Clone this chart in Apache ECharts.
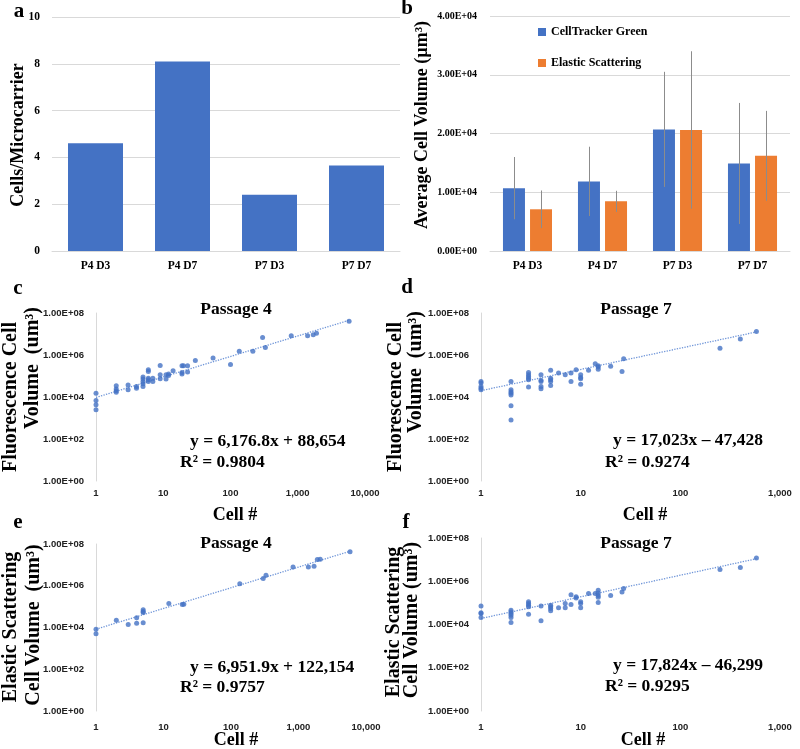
<!DOCTYPE html>
<html>
<head>
<meta charset="utf-8">
<script src="https://cdn.jsdelivr.net/npm/echarts@6/dist/echarts.min.js"></script>
<style>
  html, body { margin: 0; padding: 0; background: #fff; }
  #chart { width: 800px; height: 749px; }
</style>
</head>
<body>
<div id="chart"></div>
<script>
// ---- data ----
var groups = ['P4 D3', 'P4 D7', 'P7 D3', 'P7 D7'];
var cellsPerCarrier = [4.6, 8.1, 2.4, 3.65];

var volGreen = [10700, 11850, 20700, 14900];
var volGreenSd = [5300, 5900, 9800, 10300];
var volElastic = [7100, 8450, 20600, 16200];
var volElasticSd = [3200, 1800, 13400, 7650];

// [cell #, volume]
var p4Fluo = [
    [1, 1.5e4], [1, 6.8e3], [1, 4.3e3], [1, 2.5e3],
    [2, 3.4e4], [2, 2.4e4], [2, 2.0e4], [2, 1.7e4],
    [3, 3.7e4], [3, 2.2e4], [4, 3.2e4], [4, 2.6e4],
    [5, 8.9e4], [5, 7.1e4], [5, 5.5e4], [5, 4.3e4], [5, 3.2e4],
    [6, 2.0e5], [6, 1.66e5], [6, 7.9e4], [6, 6.6e4], [6, 5.5e4],
    [7, 7.9e4], [7, 5.5e4], [9, 3.2e5], [9, 1.15e5], [9, 7.4e4],
    [11, 1.15e5], [11, 7.1e4], [12, 1.26e5], [12, 1.07e5], [14, 1.8e5],
    [19, 3.1e5], [19, 1.48e5], [19, 1.23e5], [20, 3.1e5], [23, 3.1e5], [23, 1.55e5],
    [30, 5.4e5], [55, 7.2e5], [100, 3.5e5], [135, 1.5e6], [215, 1.5e6],
    [300, 6.8e6], [330, 2.3e6], [800, 8.3e6], [1400, 8.3e6], [1700, 9.3e6],
    [1900, 1.1e7], [5800, 4.0e7]
];
var p4FluoTrend = [[1, 9.5e3], [5800, 4.5e7]];

var p7Fluo = [
    [1, 5.5e4], [1, 4.6e4], [1, 3.2e4], [1, 2.6e4], [1, 2.2e4],
    [2, 5.5e4], [2, 2.2e4], [2, 1.8e4], [2, 1.5e4], [2, 1.26e4], [2, 3.8e3], [2, 8.1e2],
    [3, 1.48e5], [3, 1.15e5], [3, 9.5e4], [3, 7.9e4], [3, 6.6e4], [3, 3.0e4],
    [4, 1.15e5], [4, 6.2e4], [4, 5.5e4], [4, 3.2e4], [4, 2.5e4],
    [5, 1.86e5], [5, 7.9e4], [5, 6.6e4], [5, 5.5e4], [5, 3.5e4],
    [6, 1.38e5], [7, 1.15e5], [8, 1.38e5], [8, 5.5e4], [9, 2.0e5],
    [10, 1.15e5], [10, 8.5e4], [10, 7.4e4], [10, 4.1e4], [12, 1.86e5], [14, 3.8e5],
    [15, 3.1e5], [15, 2.7e5], [15, 2.1e5], [20, 2.9e5], [26, 1.66e5], [27, 6.6e5],
    [250, 2.1e6], [400, 5.8e6], [580, 1.3e7]
];
var p7FluoTrend = [[1, 2.0e4], [580, 1.25e7]];

var p4Elastic = [
    [1, 8.3e3], [1, 5.0e3], [2, 2.2e4], [3, 1.4e4], [4, 2.9e4], [4, 1.6e4],
    [5, 7.1e4], [5, 5.9e4], [5, 5.2e4], [5, 1.7e4], [12, 1.4e5], [19, 1.26e5], [20, 1.3e5],
    [135, 1.26e6], [300, 2.2e6], [330, 3.2e6], [830, 7.9e6], [1400, 7.9e6], [1700, 8.5e6],
    [1900, 1.8e7], [2100, 1.85e7], [5800, 4.2e7]
];
var p4ElasticTrend = [[1, 8.3e3], [5800, 4.5e7]];

var p7Elastic = [
    [1, 7.1e4], [1, 3.5e4], [1, 3.2e4], [1, 2.1e4],
    [2, 4.6e4], [2, 3.8e4], [2, 3.2e4], [2, 2.7e4], [2, 2.1e4], [2, 1.23e4],
    [3, 1.12e5], [3, 9.3e4], [3, 7.8e4], [3, 6.6e4], [3, 3.0e4],
    [4, 7.1e4], [4, 1.5e4], [5, 7.8e4], [5, 6.6e4], [5, 5.5e4], [5, 4.3e4],
    [6, 6.0e4], [7, 9.3e4], [7, 5.9e4], [8, 2.4e5], [8, 8.3e4], [9, 1.9e5], [9, 1.66e5],
    [10, 1.12e5], [10, 9.3e4], [10, 6.0e4], [12, 2.7e5], [14, 2.7e5],
    [15, 3.8e5], [15, 2.9e5], [15, 2.2e5], [15, 1.8e5], [15, 1.05e5],
    [20, 2.2e5], [26, 3.2e5], [27, 4.6e5], [250, 3.5e6], [400, 4.3e6], [580, 1.2e7]
];
var p7ElasticTrend = [[1, 1.9e4], [580, 1.1e7]];

// ---- styling helpers ----
var SERIF = '"Liberation Serif", "Times New Roman", serif';
var SANS = '"Liberation Sans", Arial, sans-serif';
var BLUE = '#4472C4';
var ORANGE = '#ED7D31';
var GRIDLINE = '#d9d9d9';

function sciLabel(v) {
    if (v === 0) return '0.00E+00';
    var e = Math.floor(Math.log10(Math.abs(v)) + 1e-9);
    var m = v / Math.pow(10, e);
    return m.toFixed(2) + 'E' + (e < 0 ? '-' : '+') + (Math.abs(e) < 10 ? '0' : '') + Math.abs(e);
}

function logYLabel(v) {
    var e = Math.round(Math.log10(v));
    if (e % 2 !== 0) return '';
    return '1.00E+' + (e < 10 ? '0' : '') + e;
}

function logXLabel(v) {
    return Math.round(v).toLocaleString('en-US');
}

function logX(gi, max, margin) {
    return {
        gridIndex: gi, type: 'log', logBase: 10, min: 1, max: max,
        axisLine: { show: false }, axisTick: { show: false }, splitLine: { show: false },
        axisLabel: { formatter: logXLabel, margin: margin, color: '#222', fontFamily: SANS, fontWeight: 'bold', fontSize: 9.5 }
    };
}

function logY(gi) {
    return {
        gridIndex: gi, type: 'log', logBase: 10, min: 1, max: 1e8,
        axisLine: { show: true, lineStyle: { color: GRIDLINE, width: 1 } },
        axisTick: { show: false }, splitLine: { show: false },
        axisLabel: { formatter: logYLabel, margin: 12, color: '#222', fontFamily: SANS, fontWeight: 'bold', fontSize: 9.5 }
    };
}

function scatterPair(gi, pts, trend) {
    return [{
        type: 'line', xAxisIndex: gi, yAxisIndex: gi, data: trend, showSymbol: false, silent: true,
        lineStyle: { type: 'dotted', width: 1.3, color: '#6f95d8' }, z: 1
    }, {
        type: 'scatter', xAxisIndex: gi, yAxisIndex: gi, data: pts, symbolSize: 5,
        itemStyle: { color: BLUE }, z: 2
    }];
}

// error bars sit on the centre of each bar of the pair
function errRender(sign) {
    return function (params, api) {
        var w = 22;
        var off = sign * (w * 1.23) / 2;
        var lo = api.coord([api.value(0), api.value(1)]);
        var hi = api.coord([api.value(0), api.value(2)]);
        var x = Math.round(lo[0] + off) + 0.5;
        return {
            type: 'line',
            shape: { x1: x, y1: lo[1], x2: x, y2: hi[1] },
            style: { stroke: '#8c8c8c', lineWidth: 1 }
        };
    };
}

function errData(vals, sd) {
    return vals.map(function (v, i) { return [i, v - sd[i], v + sd[i]]; });
}

function txt(x, y, s, size, opts) {
    opts = opts || {};
    return {
        type: 'text', x: x, y: y, rotation: opts.rot || 0, silent: true,
        style: {
            text: s, fill: '#000', font: 'bold ' + size + 'px ' + SERIF,
            textAlign: opts.align || 'center', textVerticalAlign: 'middle'
        }
    };
}

var R90 = Math.PI / 2;

var myChart = echarts.init(document.getElementById('chart'), null, { renderer: 'canvas' });

var option = {
    backgroundColor: '#fff',
    animation: false,
    legend: {
        data: ['CellTracker Green', 'Elastic Scattering'],
        orient: 'vertical', left: 533, top: 21, itemGap: 19,
        itemWidth: 8, itemHeight: 8, icon: 'rect',
        textStyle: { fontFamily: SERIF, fontWeight: 'bold', fontSize: 12, color: '#000' }
    },
    grid: [
        { left: 52, top: 17, width: 348, height: 234 },
        { left: 490, top: 16, width: 300, height: 235 },
        { left: 96, top: 313, width: 269, height: 168 },
        { left: 481, top: 313, width: 299, height: 168 },
        { left: 96, top: 544, width: 270, height: 167 },
        { left: 481, top: 538, width: 299, height: 173 }
    ],
    xAxis: [
        {
            gridIndex: 0, type: 'category', data: groups,
            axisLine: { lineStyle: { color: GRIDLINE } }, axisTick: { show: false },
            axisLabel: { margin: 9, color: '#000', fontFamily: SERIF, fontWeight: 'bold', fontSize: 11.5 }
        },
        {
            gridIndex: 1, type: 'category', data: groups,
            axisLine: { lineStyle: { color: GRIDLINE } }, axisTick: { show: false },
            axisLabel: { margin: 9, color: '#000', fontFamily: SERIF, fontWeight: 'bold', fontSize: 11.5 }
        },
        logX(2, 10000, 7),
        logX(3, 1000, 7),
        logX(4, 10000, 11),
        logX(5, 1000, 11)
    ],
    yAxis: [
        {
            gridIndex: 0, type: 'value', min: 0, max: 10, interval: 2,
            axisLine: { show: false }, axisTick: { show: false },
            splitLine: { lineStyle: { color: GRIDLINE } },
            axisLabel: { margin: 12, color: '#000', fontFamily: SERIF, fontWeight: 'bold', fontSize: 11.5 }
        },
        {
            gridIndex: 1, type: 'value', min: 0, max: 40000, interval: 10000,
            axisLine: { show: false }, axisTick: { show: false },
            splitLine: { lineStyle: { color: GRIDLINE } },
            axisLabel: { margin: 13, formatter: sciLabel, color: '#000', fontFamily: SERIF, fontWeight: 'bold', fontSize: 10 }
        },
        logY(2), logY(3), logY(4), logY(5)
    ],
    series: [
        {
            type: 'bar', xAxisIndex: 0, yAxisIndex: 0, data: cellsPerCarrier,
            barWidth: 55, itemStyle: { color: BLUE }
        },
        {
            name: 'CellTracker Green', type: 'bar', xAxisIndex: 1, yAxisIndex: 1, data: volGreen,
            barWidth: 22, barGap: '23%', itemStyle: { color: BLUE }
        },
        {
            name: 'Elastic Scattering', type: 'bar', xAxisIndex: 1, yAxisIndex: 1, data: volElastic,
            barWidth: 22, barGap: '23%', itemStyle: { color: ORANGE }
        },
        {
            type: 'custom', xAxisIndex: 1, yAxisIndex: 1, renderItem: errRender(-1),
            data: errData(volGreen, volGreenSd), encode: { x: 0, y: [1, 2] }, z: 5, silent: true
        },
        {
            type: 'custom', xAxisIndex: 1, yAxisIndex: 1, renderItem: errRender(1),
            data: errData(volElastic, volElasticSd), encode: { x: 0, y: [1, 2] }, z: 5, silent: true
        }
    ]
        .concat(scatterPair(2, p4Fluo, p4FluoTrend))
        .concat(scatterPair(3, p7Fluo, p7FluoTrend))
        .concat(scatterPair(4, p4Elastic, p4ElasticTrend))
        .concat(scatterPair(5, p7Elastic, p7ElasticTrend)),
    graphic: [
        // panel letters
        txt(19, 12, 'a', 21), txt(407, 9, 'b', 21),
        txt(18, 289, 'c', 21), txt(407, 288, 'd', 21),
        txt(18, 523, 'e', 21), txt(406, 523, 'f', 21),
        // y axis titles
        txt(18, 135, 'Cells/Microcarrier', 18, { rot: R90 }),
        txt(422, 125, 'Average Cell Volume (\u00b5m\u00b3)', 18, { rot: R90 }),
        txt(11, 397, 'Fluorescence Cell', 20, { rot: R90 }),
        txt(33, 368, 'Volume  (um\u00b3)', 20, { rot: R90 }),
        txt(396, 397, 'Fluorescence Cell', 20, { rot: R90 }),
        txt(416, 372, 'Volume  (um\u00b3)', 20, { rot: R90 }),
        txt(11, 627, 'Elastic Scattering', 20, { rot: R90 }),
        txt(34, 625, 'Cell Volume  (um\u00b3)', 20, { rot: R90 }),
        txt(394, 622, 'Elastic Scattering', 20, { rot: R90 }),
        txt(412, 620, 'Cell Volume (um\u00b3)', 20, { rot: R90 }),
        // panel titles
        txt(236, 309, 'Passage 4', 17.5), txt(636, 309, 'Passage 7', 17.5),
        txt(236, 543, 'Passage 4', 17.5), txt(636, 543, 'Passage 7', 17.5),
        // x axis titles
        txt(235, 515, 'Cell #', 18), txt(645, 515, 'Cell #', 18),
        txt(236, 740, 'Cell #', 18), txt(643, 740, 'Cell #', 18),
        // fit equations
        txt(190, 441, 'y = 6,176.8x + 88,654', 17.5, { align: 'left' }),
        txt(180, 462, 'R\u00b2 = 0.9804', 17.5, { align: 'left' }),
        txt(613, 440, 'y = 17,023x \u2013 47,428', 17.5, { align: 'left' }),
        txt(605, 462, 'R\u00b2 = 0.9274', 17.5, { align: 'left' }),
        txt(190, 667, 'y = 6,951.9x + 122,154', 17.5, { align: 'left' }),
        txt(180, 687, 'R\u00b2 = 0.9757', 17.5, { align: 'left' }),
        txt(613, 665, 'y = 17,824x \u2013 46,299', 17.5, { align: 'left' }),
        txt(605, 686, 'R\u00b2 = 0.9295', 17.5, { align: 'left' })
    ]
};

myChart.setOption(option);
</script>
</body>
</html>
